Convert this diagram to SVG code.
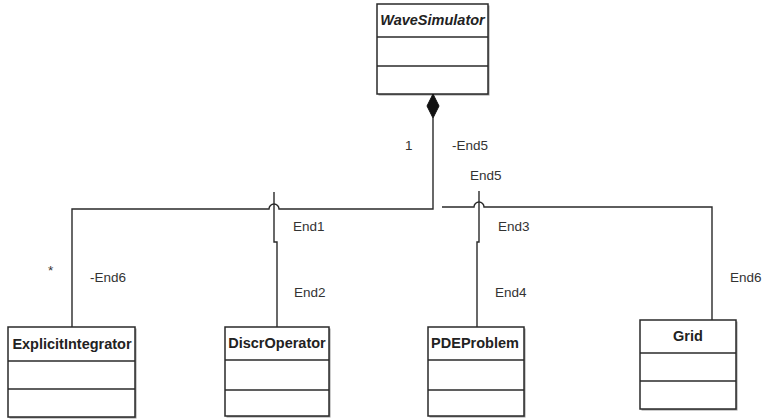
<svg xmlns="http://www.w3.org/2000/svg" width="764" height="420" viewBox="0 0 764 420">
<style>
.box{fill:#fff;stroke:#2a2a2a;stroke-width:1.5}
.shadow{fill:#999;stroke:none}
.div{stroke:#2a2a2a;stroke-width:1.5}
.name{font-family:"Liberation Sans",Arial,sans-serif;font-weight:bold;font-size:14.5px;fill:#222;text-anchor:middle}
.lbl{font-family:"Liberation Sans",Arial,sans-serif;font-size:13.5px;fill:#333}
.conn{fill:none;stroke:#2a2a2a;stroke-width:1.4}
</style>
<rect width="764" height="420" fill="#fff"/>
<g id="WaveSimulator">
<rect class="shadow" x="378.5" y="5.5" width="111" height="90"/>
<rect class="box" x="377" y="4" width="111" height="90"/>
<line class="div" x1="377" y1="37" x2="488" y2="37"/>
<line class="div" x1="377" y1="66" x2="488" y2="66"/>
<text class="name" x="432.5" y="25" font-style="italic" font-size="14px">WaveSimulator</text>
</g>
<g id="ExplicitIntegrator">
<rect class="shadow" x="9.5" y="328.5" width="127" height="90"/>
<rect class="box" x="8" y="327" width="127" height="90"/>
<line class="div" x1="8" y1="361" x2="135" y2="361"/>
<line class="div" x1="8" y1="389" x2="135" y2="389"/>
<text class="name" x="72" y="349">ExplicitIntegrator</text>
</g>
<g id="DiscrOperator">
<rect class="shadow" x="226.5" y="328.5" width="104" height="89"/>
<rect class="box" x="225" y="327" width="104" height="89"/>
<line class="div" x1="225" y1="360" x2="329" y2="360"/>
<line class="div" x1="225" y1="390" x2="329" y2="390"/>
<text class="name" x="277" y="348">DiscrOperator</text>
</g>
<g id="PDEProblem">
<rect class="shadow" x="429.5" y="328.5" width="96" height="89"/>
<rect class="box" x="428" y="327" width="96" height="89"/>
<line class="div" x1="428" y1="360" x2="524" y2="360"/>
<line class="div" x1="428" y1="390" x2="524" y2="390"/>
<text class="name" x="475" y="348">PDEProblem</text>
</g>
<g id="Grid">
<rect class="shadow" x="641.5" y="321.5" width="96" height="89"/>
<rect class="box" x="640" y="320" width="96" height="89"/>
<line class="div" x1="640" y1="353" x2="736" y2="353"/>
<line class="div" x1="640" y1="381" x2="736" y2="381"/>
<text class="name" x="688" y="341">Grid</text>
</g>
<g id="connectors">
<path class="conn" d="M433,118 V209 H279 A5,5 0 0 0 269,209 H72 V327"/>
<path d="M433,94 L439,106 L433,118 L427,106 Z" fill="#111" stroke="#111" stroke-width="1"/>
<path class="conn" d="M277,327 V242 H274 V192"/>
<path class="conn" d="M442,207 H474 A5,5 0 0 1 484,207 H712 V320"/>
<path class="conn" d="M477,327 V242 H479 V191"/>
<text class="lbl" x="405" y="150">1</text>
<text class="lbl" x="452" y="150">-End5</text>
<text class="lbl" x="470" y="180">End5</text>
<text class="lbl" x="48" y="275">*</text>
<text class="lbl" x="90" y="282">-End6</text>
<text class="lbl" x="293" y="231">End1</text>
<text class="lbl" x="294" y="297">End2</text>
<text class="lbl" x="498" y="231">End3</text>
<text class="lbl" x="495" y="297">End4</text>
<text class="lbl" x="730" y="282">End6</text>
</g>
</svg>
